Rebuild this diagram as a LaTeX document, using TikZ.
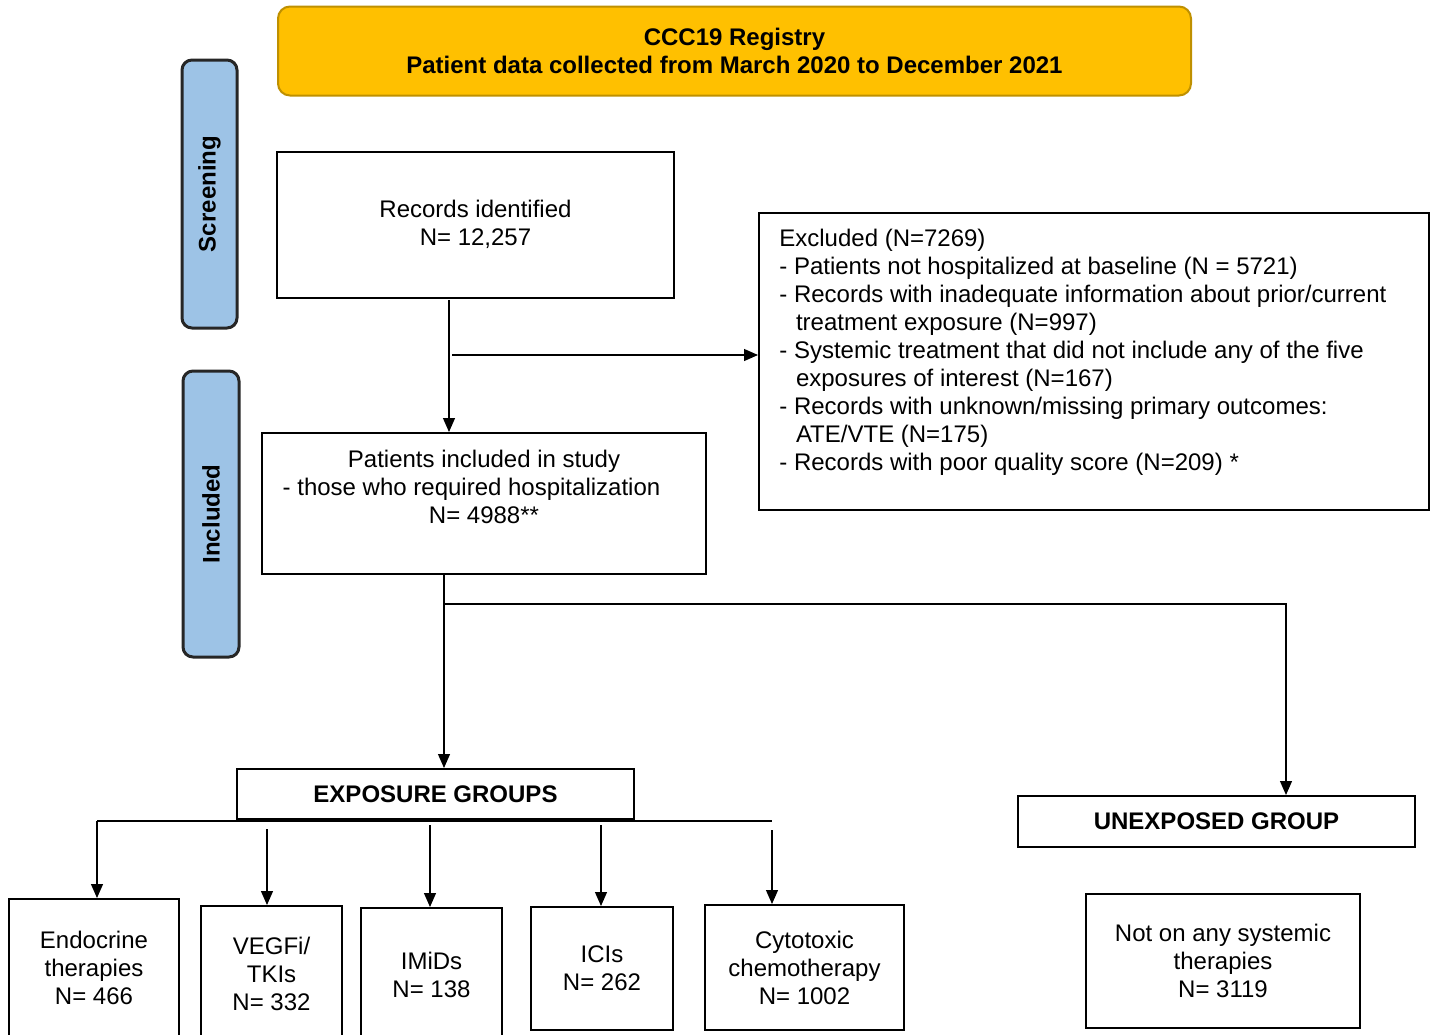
\documentclass[tikz,border=0pt]{standalone}
\usepackage{fontspec}
\setmainfont{Liberation Sans}
\usetikzlibrary{arrows.meta}
\definecolor{regfill}{HTML}{FFC000}
\definecolor{regline}{HTML}{BF9000}
\definecolor{lanefill}{HTML}{9DC3E6}

\begin{document}
\begin{tikzpicture}
[x=0.5pt,y=-0.5pt,>={Triangle[length=7pt,width=6pt]},font=\fontsize{12}{14}\selectfont,
box/.style = {draw, line width=1pt, inner sep=0pt, align=center},
lane/.style = {draw=black!85, fill=lanefill, line width=1.5pt, rounded corners=5pt, rotate=90, font=\fontsize{12}{14}\selectfont\bfseries},
link/.style = {line width=0.6pt},]
\clip (0,0) rectangle (1435,1034);

% header and side lanes
\node[box, draw=regline, fill=regfill, rounded corners=6pt, minimum width=456.5pt, minimum height=44.5pt, font=\fontsize{12}{14}\selectfont\bfseries] (reg) at (734.5,51) {CCC19 Registry\\Patient data collected from March 2020 to December 2021};
\node[lane, minimum width=134pt, minimum height=27.5pt] (scr) at (209.5,194) {Screening};
\node[lane, minimum width=143pt, minimum height=28pt] (incl) at (211,514) {Included};

% screening
\node[box, minimum width=198.5pt, minimum height=73pt] (rec) at (475.5,224.5) {Records identified\\N= 12,257};
\node[box, minimum width=335pt, minimum height=148.5pt] (exc) at (1094,361.5) {};
\node[anchor=north west, align=left, inner sep=0pt] (exctxt) at ([xshift=10.5pt,yshift=-8.5pt]exc.north west) {Excluded (N=7269)\\
- Patients not hospitalized at baseline (N = 5721)\\
- Records with inadequate information about prior/current\\
\hspace*{8.3pt}treatment exposure (N=997)\\
- Systemic treatment that did not include any of the five\\
\hspace*{8.3pt}exposures of interest (N=167)\\
- Records with unknown/missing primary outcomes:\\
\hspace*{8.3pt}ATE/VTE (N=175)\\
- Records with poor quality score (N=209) *};
\node[box, minimum width=222pt, minimum height=70.5pt] (inc) at (484,503.5) {};
\node[anchor=north, align=center, inner sep=0pt] (inctxt) at ([yshift=-9pt]inc.north) {Patients included in study\\- those who required hospitalization\rule{12.5pt}{0pt}\\N= 4988**};

\coordinate (s0) at (449,300);
\coordinate (s1) at (452,355);
\draw[link,->] (s0) -- (inc.north -| s0);
\draw[link,->] (s1) -- (exc.west |- s1);

% groups
\node[box, minimum width=198.5pt, minimum height=25pt, font=\fontsize{12}{14}\selectfont\bfseries] (expo) at (435.5,794) {EXPOSURE GROUPS};
\node[box, minimum width=198.5pt, minimum height=25.5pt, font=\fontsize{12}{14}\selectfont\bfseries] (unexp) at (1216.5,821.5) {UNEXPOSED GROUP};

\coordinate (s2) at (444,604);
\coordinate (s3) at (1286,604);
\draw[link,->] (inc.south -| s2) -- (expo.north -| s2);
\draw[link,->] (s2) -- (s3) -- (unexp.north -| s3);

% exposure boxes
\node[box, minimum width=85pt, minimum height=68.5pt] (endo) at (94,967.5) {Endocrine\\therapies\\N= 466};
\node[box, minimum width=70.5pt, minimum height=67.5pt] (vegf) at (271.5,973.5) {VEGFi/\\TKIs\\N= 332};
\node[box, minimum width=70.5pt, minimum height=67pt] (imid) at (431.5,975) {IMiDs\\N= 138};
\node[box, minimum width=71pt, minimum height=61.5pt] (ici) at (602,968.5) {ICIs\\N= 262};
\node[box, minimum width=99.5pt, minimum height=62.5pt] (cyto) at (804.5,967.5) {Cytotoxic\\chemotherapy\\N= 1002};
\node[box, minimum width=137pt, minimum height=67pt] (none) at (1223,961) {Not on any systemic\\therapies\\N= 3119};

\coordinate (b1) at (97,821);
\coordinate (b2) at (267,829);
\coordinate (b3) at (430,825);
\coordinate (b4) at (601,825);
\coordinate (b5) at (772,830);
\draw[link] (b1) -- (772,821);
\draw[link,->] (b1) -- (endo.north -| b1);
\draw[link,->] (b2) -- (vegf.north -| b2);
\draw[link,->] (b3) -- (imid.north -| b3);
\draw[link,->] (b4) -- (ici.north -| b4);
\draw[link,->] (b5) -- (cyto.north -| b5);

\end{tikzpicture}
\end{document}
